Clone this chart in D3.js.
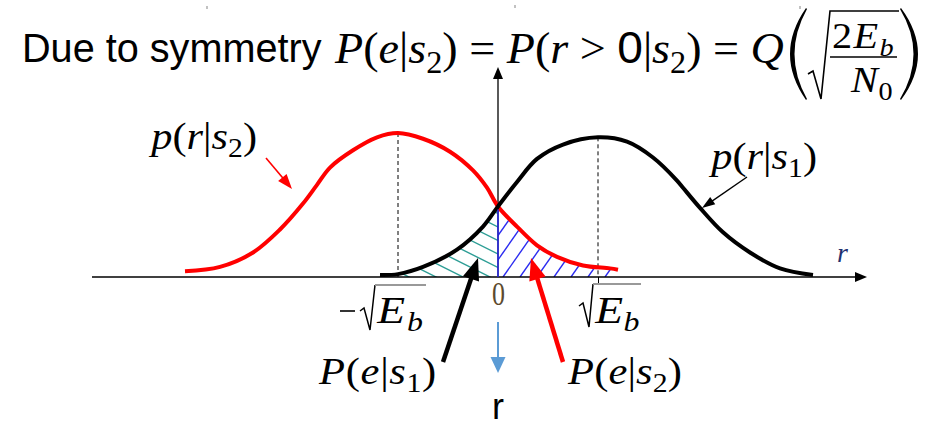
<!DOCTYPE html>
<html>
<head>
<meta charset="utf-8">
<script src="https://cdn.jsdelivr.net/npm/d3@7"></script>
<style>
  body { margin: 0; background: #fff; }
  svg { display: block; }
</style>
</head>
<body>
<svg id="chart" width="932" height="428"></svg>
<script>
// Conditional densities traced along r (in units of sqrt(Eb)); heights relative to the peak
const redR   = [-3.13, -2.78, -2.45, -2.18, -1.95, -1.81, -1.68, -1.45, -1.21, -1.0, -0.75, -0.48, -0.25, -0.11, 0, 0.19, 0.39, 0.59, 0.85, 1.12, 1.20];
const redP   = [0.04, 0.07, 0.17, 0.33, 0.51, 0.64, 0.76, 0.88, 0.97, 1.00, 0.96, 0.87, 0.74, 0.62, 0.49, 0.35, 0.22, 0.14, 0.08, 0.06, 0.05];
const blackR = [-1.18, -1.0, -0.75, -0.41, -0.15, 0, 0.19, 0.39, 0.65, 1.0, 1.29, 1.55, 1.79, 1.85, 2.02, 2.25, 2.52, 2.82, 3.15];
const blackP = [0.014, 0.02, 0.07, 0.19, 0.35, 0.49, 0.66, 0.82, 0.92, 0.97, 0.94, 0.83, 0.67, 0.62, 0.48, 0.31, 0.17, 0.06, 0.014];
// Signal means (the dashed guides) and the decision threshold
const means = [-1, 1];
const threshold = 0;
const tickValues = [-1, 0, 1];
const axisRange = [-4.06, 3.69];
const axisTop = 1.458;

const svg = d3.select("#chart");
const x = d3.scaleLinear().domain(axisRange).range([92, 867]);
const y = d3.scaleLinear().domain([0, 1]).range([277, 133]);

const SERIF = "'Liberation Serif', 'Times New Roman', serif";
const SANS = "'Liberation Sans', Arial, sans-serif";

const red = redR.map((r, i) => ({ r, p: redP[i] }));
const black = blackR.map((r, i) => ({ r, p: blackP[i] }));

const curve = d3.curveCatmullRom.alpha(0.5);
const line = d3.line().x(d => x(d.r)).y(d => y(d.p)).curve(curve);
const area = d3.area().x(d => x(d.r)).y0(y(0)).y1(d => y(d.p)).curve(curve);

const defs = svg.append("defs");

// ---------- hatched error regions ----------
function hatchRegion(id, data, side, color, lines) {
  defs.append("clipPath").attr("id", id + "-side")
    .append("rect")
    .attr("x", side < 0 ? 0 : x(threshold))
    .attr("width", side < 0 ? x(threshold) : 932 - x(threshold))
    .attr("y", 0).attr("height", 428);
  defs.append("clipPath").attr("id", id + "-area")
    .append("path").attr("d", area(data));
  const g = svg.append("g").attr("clip-path", `url(#${id}-side)`)
    .append("g").attr("clip-path", `url(#${id}-area)`);
  g.selectAll("line").data(lines).join("line")
    .attr("x1", d => d[0]).attr("y1", d => d[1])
    .attr("x2", d => d[2]).attr("y2", d => d[3])
    .attr("stroke", color).attr("stroke-width", 1.4);
}

// teal "\" strokes under the left tail of p(r|s1)
const x0 = x(threshold);
const tealLines = d3.range(-14, 8).map(k => {
  const s = 0.5, yb = 227 + 13.5 * k;
  return [x0 - 200, yb - s * 200, x0 + 5, yb + s * 5];
});
hatchRegion("teal", black, -1, "#2e9e96", tealLines);

// blue "/" strokes under the right tail of p(r|s2)
const slope = Math.tan(55 * Math.PI / 180);
const blueLines = d3.range(-3, 10).map(k => {
  const xb = x0 + 5 + 17 * k;
  return [xb, y(0), xb + 100 / slope, y(0) - 100];
});
hatchRegion("blue", red, 1, "#2b2bf0", blueLines);

// ---------- dashed guides at the means ----------
svg.selectAll(".guide").data(means).join("line")
  .attr("class", "guide")
  .attr("x1", d => x(d)).attr("x2", d => x(d))
  .attr("y1", (d, i) => y(i === 0 ? d3.max(redP) : d3.max(blackP)))
  .attr("y2", y(0))
  .attr("stroke", "#000").attr("stroke-width", 1)
  .attr("stroke-dasharray", "4,3");

// ---------- axes ----------
const xAxis = d3.axisBottom(x).tickValues([tickValues[2]]).tickSize(6).tickSizeOuter(0).tickFormat("");
svg.append("g").attr("transform", `translate(0,${y(0)})`).call(xAxis)
  .call(g => g.select(".domain").attr("stroke-width", 1.5).attr("d", `M${x(axisRange[0])},0H${x(axisRange[1]) - 10}`))
  .call(g => g.selectAll(".tick line").attr("stroke-width", 1));

function arrow(x1, y1, x2, y2, color, width, headLen, headW) {
  const dx = x2 - x1, dy = y2 - y1, L = Math.hypot(dx, dy);
  const ux = dx / L, uy = dy / L;
  const bx = x2 - ux * headLen, by = y2 - uy * headLen;
  svg.append("line")
    .attr("x1", x1).attr("y1", y1)
    .attr("x2", x2 - ux * headLen * 0.6).attr("y2", y2 - uy * headLen * 0.6)
    .attr("stroke", color).attr("stroke-width", width);
  svg.append("path")
    .attr("d", `M${x2},${y2}L${bx - uy * headW / 2},${by + ux * headW / 2}L${bx + uy * headW / 2},${by - ux * headW / 2}Z`)
    .attr("fill", color);
}

// arrowheads of the r axis and of the vertical axis
arrow(x(axisRange[1]) - 12, y(0), x(axisRange[1]), y(0), "#000", 1.5, 12, 10);
arrow(x(threshold), y(0), x(threshold), y(axisTop), "#000", 1.3, 12, 10);

// ---------- density curves ----------
svg.append("path").attr("d", line(red))
  .attr("fill", "none").attr("stroke", "#ff0000").attr("stroke-width", 4);
svg.append("path").attr("d", line(black))
  .attr("fill", "none").attr("stroke", "#000").attr("stroke-width", 4);

// threshold edge of the blue region
const cross = redP[redR.indexOf(threshold)];
svg.append("line")
  .attr("x1", x(threshold)).attr("x2", x(threshold))
  .attr("y1", y(cross) + 3).attr("y2", y(0))
  .attr("stroke", "#2b2bf0").attr("stroke-width", 1.5);

// ---------- text helpers ----------
// Places a text so that it spans width w: mild horizontal scaling, then letter spacing for the rest.
function fitted(node, px, py, w, opts = {}) {
  const sel = d3.select(node);
  let bb = node.getBBox();
  let sx = w / bb.width;
  const maxS = opts.maxS || 1.12;
  if (sx > maxS) {
    const n = node.textContent.length;
    const extra = w / maxS - bb.width;
    sel.attr("letter-spacing", extra / n);
    bb = node.getBBox();
    sx = w / bb.width;
  }
  const sy = opts.sy || 1;
  sel.attr("transform", `translate(${px - bb.x * sx},${py}) scale(${sx},${sy})`);
}

// parts: [text, kind] with kind i = italic, u = upright, s = subscript, si = italic subscript, sans = upright sans
function math(parts, size, px, py, w, opts = {}) {
  const t = svg.append("text")
    .attr("font-family", SERIF).attr("font-size", size)
    .attr("fill", opts.fill || "#000");
  let off = 0;
  parts.forEach(([s, k]) => {
    const ts = t.append("tspan").text(s);
    const sub = k === "s" || k === "si";
    const want = sub ? size * 0.22 : 0;
    if (want !== off) { ts.attr("dy", want - off); off = want; }
    if (sub) ts.attr("font-size", size * 0.7);
    if (k === "i" || k === "si") ts.attr("font-style", "italic");
    if (k === "sans") ts.attr("font-family", SANS);
  });
  fitted(t.node(), px, py, w, opts);
  return t;
}

// ---------- heading ----------
const head = svg.append("text").attr("font-family", SANS).attr("font-size", 41)
  .attr("fill", "#000").text("Due to symmetry");
fitted(head.node(), 22, 62, 300);

math([["P", "i"], ["(", "u"], ["e", "i"], ["|", "u"], ["s", "i"], ["2", "s"], [") = ", "u"],
      ["P", "i"], ["(", "u"], ["r", "i"], [" > ", "u"], ["0", "sans"], ["|", "u"], ["s", "i"], ["2", "s"],
      [") = ", "u"], ["Q", "i"]], 44, 334, 63, 450);

// large parentheses, radical and fraction
svg.append("path").attr("d", "M806,8Q774,54 806,100L807,99Q782,54 807,9Z").attr("fill", "#000");
svg.append("path").attr("d", "M901,8Q935,54 901,100L900,99Q927,54 900,9Z").attr("fill", "#000");
svg.append("path").attr("d", "M808,74L813,71L821,99L830,11L899,11")
  .attr("fill", "none").attr("stroke", "#000").attr("stroke-width", 1.6);
math([["2", "u"], ["E", "i"], ["b", "si"]], 36, 832, 48, 63);
svg.append("line").attr("x1", 830).attr("x2", 897).attr("y1", 57).attr("y2", 57)
  .attr("stroke", "#000").attr("stroke-width", 1.6);
math([["N", "i"], ["0", "s"]], 36, 850, 92, 43);

// faint marks along the top edge
[[207, 6], [515, 5], [800, 6]].forEach(([mx, my]) => {
  svg.append("line").attr("x1", mx).attr("x2", mx).attr("y1", my).attr("y2", my + 3)
    .attr("stroke", "#999").attr("stroke-width", 1.2);
});

// ---------- curve labels ----------
math([["p", "i"], ["(", "u"], ["r", "i"], ["|", "u"], ["s", "i"], ["2", "s"], [")", "u"]], 38, 148, 149, 109);
arrow(266, 158, 292, 189, "#ff0000", 1.6, 15, 11);
math([["p", "i"], ["(", "u"], ["r", "i"], ["|", "u"], ["s", "i"], ["1", "s"], [")", "u"]], 38, 708, 169, 109);
arrow(747, 177, 702, 208, "#000", 1.4, 13, 9);

// axis name
svg.append("text").attr("x", 837).attr("y", 262)
  .attr("font-family", SERIF).attr("font-style", "italic").attr("font-size", 28)
  .attr("fill", "#1f3170").text("r");

// ---------- tick labels ----------
svg.append("line").attr("x1", x(tickValues[0]) - 58).attr("x2", x(tickValues[0]) - 43)
  .attr("y1", 311).attr("y2", 311).attr("stroke", "#000").attr("stroke-width", 1.6);
svg.append("path").attr("d", `M${x(tickValues[0]) - 38},311L${x(tickValues[0]) - 34},308L${x(tickValues[0]) - 28},330L${x(tickValues[0]) - 23},285`)
  .attr("fill", "none").attr("stroke", "#000").attr("stroke-width", 1.5);
svg.append("line").attr("x1", x(tickValues[0]) - 23).attr("x2", x(tickValues[0]) + 28)
  .attr("y1", 285).attr("y2", 285).attr("stroke", "#999").attr("stroke-width", 2);
math([["E", "i"], ["b", "si"]], 38, x(tickValues[0]) - 22, 323, 49, { maxS: 1.2 });

math([["0", "u"]], 34, x(tickValues[1]) - 6, 305, 13, { fill: "#5c4a2e" });

svg.append("path").attr("d", `M${x(tickValues[2]) - 19},306L${x(tickValues[2]) - 15},303L${x(tickValues[2]) - 9},327L${x(tickValues[2]) - 5},284`)
  .attr("fill", "none").attr("stroke", "#000").attr("stroke-width", 1.5);
svg.append("line").attr("x1", x(tickValues[2]) - 5).attr("x2", x(tickValues[2]) + 43)
  .attr("y1", 284).attr("y2", 284).attr("stroke", "#999").attr("stroke-width", 2);
math([["E", "i"], ["b", "si"]], 38, x(tickValues[2]) - 4, 323, 46, { maxS: 1.2 });

// ---------- error-probability labels ----------
math([["P", "i"], ["(", "u"], ["e", "i"], ["|", "u"], ["s", "i"], ["1", "s"], [")", "u"]], 38, 318, 384, 119);
arrow(443, 362, 478, 258, "#000", 4.5, 22, 17);
math([["P", "i"], ["(", "u"], ["e", "i"], ["|", "u"], ["s", "i"], ["2", "s"], [")", "u"]], 38, 567, 384, 115);
arrow(563, 362, 531, 258, "#ff0000", 4.5, 22, 17);

// decision variable pointer
arrow(x(threshold), 322, x(threshold), 373, "#5b9bd5", 2, 16, 15);
svg.append("text").attr("x", x(threshold)).attr("y", 419)
  .attr("text-anchor", "middle").attr("font-family", SANS).attr("font-size", 36)
  .attr("fill", "#000").text("r");
</script>
</body>
</html>
